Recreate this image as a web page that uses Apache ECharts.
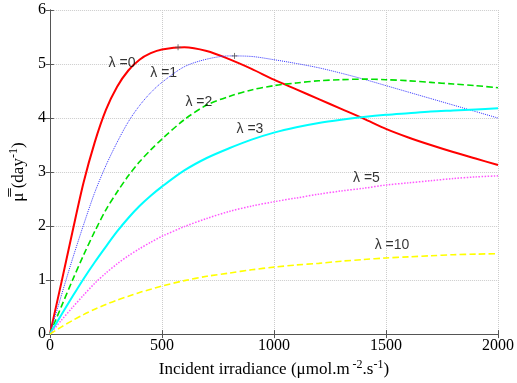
<!DOCTYPE html>
<html>
<head>
<meta charset="utf-8">
<script src="https://cdn.jsdelivr.net/npm/echarts@6/dist/echarts.min.js"></script>
<style>
  html, body { margin: 0; padding: 0; background: #fff; }
  #chart { width: 517px; height: 383px; }
</style>
</head>
<body>
<div id="chart"></div>
<script>
// irradiance (x) shared by all curves
const irradiance = [0, 50, 100, 150, 200, 250, 300, 350, 400, 450, 500, 600, 700, 800, 900, 1000,
  1100, 1200, 1300, 1400, 1500, 1600, 1700, 1800, 1900, 2000]

// mean growth rate per lambda
const mu0 = [0, 0.93, 1.88, 2.8, 3.55, 4.15, 4.58, 4.88, 5.08, 5.2, 5.27, 5.31, 5.24, 5.09, 4.91, 4.71,
  4.53, 4.35, 4.17, 3.99, 3.8, 3.64, 3.5, 3.37, 3.25, 3.13]
const mu1 = [0, 0.7, 1.38, 2.02, 2.62, 3.12, 3.55, 3.93, 4.23, 4.47, 4.66, 4.95, 5.09, 5.15, 5.14, 5.08,
  5.01, 4.93, 4.83, 4.72, 4.6, 4.48, 4.36, 4.24, 4.12, 4.0]
const mu2 = [0, 0.5, 0.99, 1.46, 1.9, 2.3, 2.63, 2.93, 3.19, 3.41, 3.61, 3.97, 4.24, 4.4, 4.52, 4.6,
  4.65, 4.69, 4.71, 4.72, 4.71, 4.69, 4.66, 4.63, 4.6, 4.56]
const mu3 = [0, 0.35, 0.69, 1.02, 1.33, 1.62, 1.9, 2.15, 2.37, 2.56, 2.73, 3.03, 3.26, 3.44, 3.6, 3.73,
  3.83, 3.91, 3.97, 4.02, 4.06, 4.09, 4.12, 4.14, 4.16, 4.18]
const mu5 = [0, 0.25, 0.49, 0.72, 0.94, 1.13, 1.3, 1.45, 1.58, 1.7, 1.81, 1.99, 2.14, 2.27, 2.37, 2.45,
  2.52, 2.59, 2.65, 2.7, 2.76, 2.8, 2.84, 2.88, 2.91, 2.93]
const mu10 = [0, 0.13, 0.25, 0.36, 0.46, 0.55, 0.63, 0.7, 0.77, 0.83, 0.89, 0.99, 1.07, 1.13, 1.19, 1.24,
  1.28, 1.31, 1.35, 1.38, 1.41, 1.43, 1.45, 1.47, 1.48, 1.49]

// small + markers at the maxima of lambda=0 and lambda=1
const peakX = [572, 824]
const peakY = [5.31, 5.15]

// curve annotations
const labelText = ['λ =0', 'λ =1', 'λ =2', 'λ =3', 'λ =5', 'λ =10']
const labelX = [322, 508, 665, 893, 1413, 1527]
const labelY = [5.02, 4.83, 4.3, 3.79, 2.89, 1.65]

const chart = echarts.init(document.getElementById('chart'))

const pairs = (ys) => irradiance.map((x, i) => [x, ys[i]])

const curve = (name, ys, color, type, width) => ({
  name,
  type: 'line',
  data: pairs(ys),
  smooth: 0.3,
  symbol: 'none',
  lineStyle: { color, type, width },
  z: 3
})

const axisColor = '#555'
const serif = 'Liberation Serif, Times New Roman, serif'
const supStyle = { fontFamily: serif, fontSize: 12, verticalAlign: 'top', padding: [0, 0, 9, 0], color: '#000' }

const option = {
  animation: false,
  backgroundColor: '#fff',
  grid: { left: 48, right: 19, top: 10, bottom: 45 },
  xAxis: [
    {
      type: 'value',
      min: 0,
      max: 2000,
      interval: 500,
      name: 'Incident irradiance (μmol.m{sup| -2}.s{sup|-1})',
      nameLocation: 'middle',
      nameGap: 23,
      nameTextStyle: { fontFamily: serif, fontSize: 17, color: '#000', rich: { sup: supStyle } },
      axisLine: { lineStyle: { color: axisColor } },
      axisTick: { inside: true, length: 4, lineStyle: { color: axisColor } },
      axisLabel: { fontFamily: serif, fontSize: 16, color: '#000', margin: 4, formatter: (v) => String(v) },
      splitLine: { show: true, lineStyle: { color: '#ccc', type: 'dotted' } }
    },
    {
      type: 'value',
      position: 'top',
      min: 0,
      max: 2000,
      interval: 500,
      axisLine: { show: true, lineStyle: { color: axisColor } },
      axisTick: { show: true, inside: true, length: 4, lineStyle: { color: axisColor } },
      axisLabel: { show: false },
      splitLine: { show: false }
    }
  ],
  yAxis: [
    {
      type: 'value',
      min: 0,
      max: 6,
      interval: 1,
      name: 'μ̿ (day{sup|-1})',
      nameLocation: 'middle',
      nameRotate: 90,
      nameGap: 14,
      nameTextStyle: { fontFamily: serif, fontSize: 17, color: '#000', rich: { sup: supStyle } },
      axisLine: { show: true, lineStyle: { color: axisColor } },
      axisTick: { show: true, inside: true, length: 4, lineStyle: { color: axisColor } },
      axisLabel: { fontFamily: serif, fontSize: 16, color: '#000', margin: 4 },
      splitLine: { show: true, lineStyle: { color: '#ccc', type: 'dotted' } }
    },
    {
      type: 'value',
      position: 'right',
      min: 0,
      max: 6,
      interval: 1,
      axisLine: { show: true, lineStyle: { color: axisColor } },
      axisTick: { show: true, inside: true, length: 4, lineStyle: { color: axisColor } },
      axisLabel: { show: false },
      splitLine: { show: false }
    }
  ],
  series: [
    curve('λ=0', mu0, '#ff0000', 'solid', 2),
    curve('λ=1', mu1, '#3333ff', 'dotted', 1),
    curve('λ=2', mu2, '#00e000', 'dashed', 1.6),
    curve('λ=3', mu3, '#00ffff', 'solid', 2),
    curve('λ=5', mu5, '#ff55ff', 'dotted', 1.5),
    curve('λ=10', mu10, '#ffff00', 'dashed', 1.6),
    {
      type: 'scatter',
      data: peakX.map((x, i) => [x, peakY[i]]),
      symbol: 'path://M0,5L10,5M5,0L5,10',
      symbolSize: 6,
      itemStyle: { color: 'none', borderWidth: 1, borderColor: (p) => (p.dataIndex === 0 ? '#ff0000' : '#0000ff') },
      z: 4
    },
    {
      type: 'scatter',
      data: labelX.map((x, i) => [x, labelY[i]]),
      symbolSize: 0,
      silent: true,
      label: {
        show: true,
        position: 'inside',
        formatter: (p) => labelText[p.dataIndex],
        fontFamily: 'Liberation Sans, Arial, sans-serif',
        fontSize: 14,
        color: '#000'
      },
      z: 5
    }
  ]
}

chart.setOption(option)
</script>
</body>
</html>
